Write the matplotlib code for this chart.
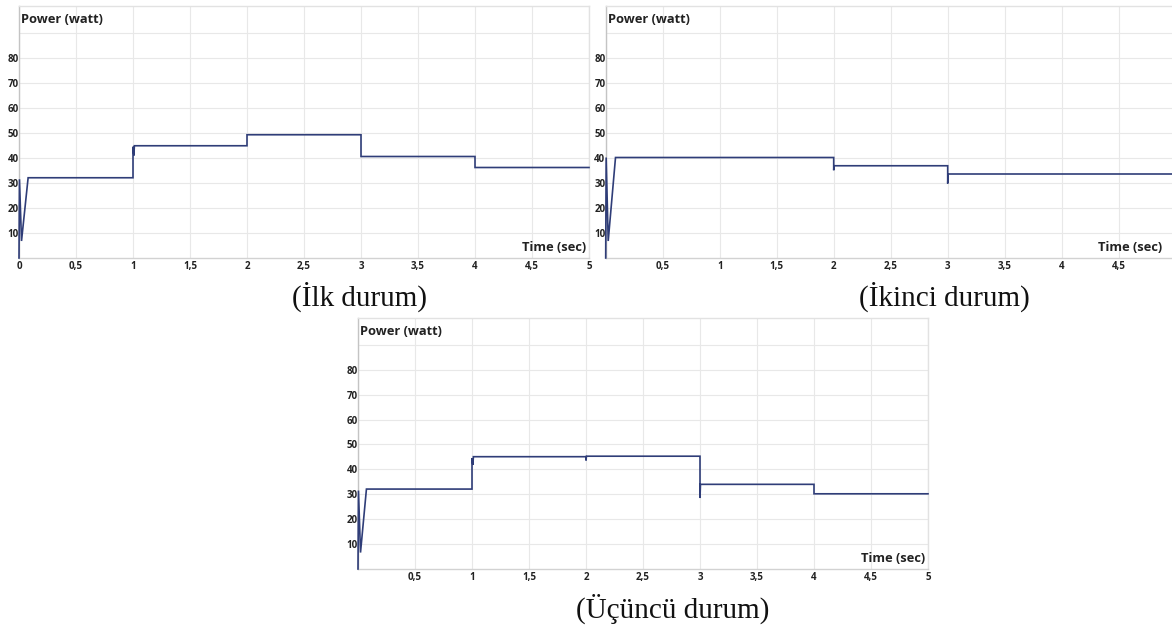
import numpy as np
import matplotlib
matplotlib.use("Agg")
import matplotlib.pyplot as plt
import matplotlib.transforms as mtransforms

# data (time in s, power in W)
t_ilk = [0, 0.004, 0.022, 0.08, 1.0, 1.0, 1.008, 1.012, 2.0, 2.0, 3.0, 3.0, 4.0, 4.0, 5.0]
p_ilk = [0, 31.5, 6.8, 32.1, 32.1, 44.5, 41.0, 44.9, 44.9, 49.3, 49.3, 40.6, 40.6, 36.2, 36.2]

t_ikinci = [0, 0.004, 0.022, 0.086, 2.0, 2.0, 2.004, 3.0, 3.0, 3.004, 5.0]
p_ikinci = [0, 40.2, 6.8, 40.2, 40.2, 35.1, 36.9, 36.9, 29.8, 33.6, 33.6]

t_ucuncu = [0, 0.004, 0.022, 0.074, 1.0, 1.0, 1.008, 1.012, 2.0, 2.0, 2.004, 3.0, 3.0, 3.004, 4.0, 4.0, 5.0]
p_ucuncu = [0, 31.5, 6.6, 32.1, 32.1, 44.5, 41.8, 45.1, 45.1, 43.6, 45.3, 45.3, 28.5, 34.0, 34.0, 30.2, 30.2]

x_ticks = [0, 0.5, 1, 1.5, 2, 2.5, 3, 3.5, 4, 4.5, 5]
y_ticks = [10, 20, 30, 40, 50, 60, 70, 80, 90]
y_labels = ["10", "20", "30", "40", "50", "60", "70", "80", ""]

captions = ["(İlk durum)", "(İkinci durum)", "(Üçüncü durum)"]

LINE = "#2f3d78"
UI_FONT = ["Open Sans", "DejaVu Sans"]


def setup(ax, t, p, show_zero, show_five=True):
    ax.plot(t, p, color=LINE, lw=1.2, solid_joinstyle="miter", zorder=3, clip_on=False)
    ax.set_xlim(0, 5)
    ax.set_ylim(0, 100.8)
    xl = [("%g" % v).replace(".", ",") for v in x_ticks]
    if not show_zero:
        xl[0] = ""
    if not show_five:
        xl[-1] = ""
    ax.set_xticks(x_ticks)
    ax.set_xticklabels(xl, fontsize=7, fontweight="bold", family=UI_FONT, color="#222222")
    ax.set_yticks(y_ticks)
    ax.set_yticklabels(y_labels, fontsize=7, fontweight="bold", family=UI_FONT, color="#222222")
    ax.tick_params(axis="x", length=0, pad=2.0)
    ax.tick_params(axis="y", length=0, pad=0.2)
    ax.grid(color="#e8e8e8", lw=0.8)
    ax.set_axisbelow(True)
    ax.spines["left"].set_color("#c4c4c4")
    ax.spines["bottom"].set_color("#d2d2d2")
    ax.spines["top"].set_color("#e2e2e2")
    ax.spines["right"].set_color("#e2e2e2")
    for s in ax.spines.values():
        s.set_linewidth(1.0)
    ax.text(0.004, 95.5, "Power (watt)", transform=mtransforms.blended_transform_factory(ax.transAxes, ax.transData),
            fontsize=9.3, fontweight="bold", family=UI_FONT, color="#222222", ha="left", va="center")


fig = plt.figure(figsize=(11.72, 6.3), dpi=100)

ax1 = fig.add_axes([19 / 1172, 372 / 630, 570 / 1172, 252 / 630])
setup(ax1, t_ilk, p_ilk, True)
ax1.text(0.995, 4.2, "Time (sec)", transform=mtransforms.blended_transform_factory(ax1.transAxes, ax1.transData),
         fontsize=9.3, fontweight="bold", family=UI_FONT, color="#222222", ha="right", va="center")

ax2 = fig.add_axes([605.7 / 1172, 372 / 630, 570 / 1172, 252 / 630])
setup(ax2, t_ikinci, p_ikinci, False, False)
ax2.text(1098 / 1172, 4.2, "Time (sec)", transform=mtransforms.blended_transform_factory(fig.transFigure, ax2.transData),
         fontsize=9.3, fontweight="bold", family=UI_FONT, color="#222222", ha="left", va="center")

ax3 = fig.add_axes([358 / 1172, 61 / 630, 570 / 1172, 251 / 630])
setup(ax3, t_ucuncu, p_ucuncu, False)
ax3.text(0.995, 4.2, "Time (sec)", transform=mtransforms.blended_transform_factory(ax3.transAxes, ax3.transData),
         fontsize=9.3, fontweight="bold", family=UI_FONT, color="#222222", ha="right", va="center")

cap_kw = dict(fontsize=21, family=["Liberation Serif", "DejaVu Serif"], color="#111111", ha="center", va="baseline")
fig.text(360 / 1172, 1 - 306 / 630, captions[0], **cap_kw)
fig.text(944 / 1172, 1 - 306 / 630, captions[1], **cap_kw)
fig.text(673 / 1172, 1 - 618 / 630, captions[2], **cap_kw)

fig.savefig("out.png", dpi=100)
